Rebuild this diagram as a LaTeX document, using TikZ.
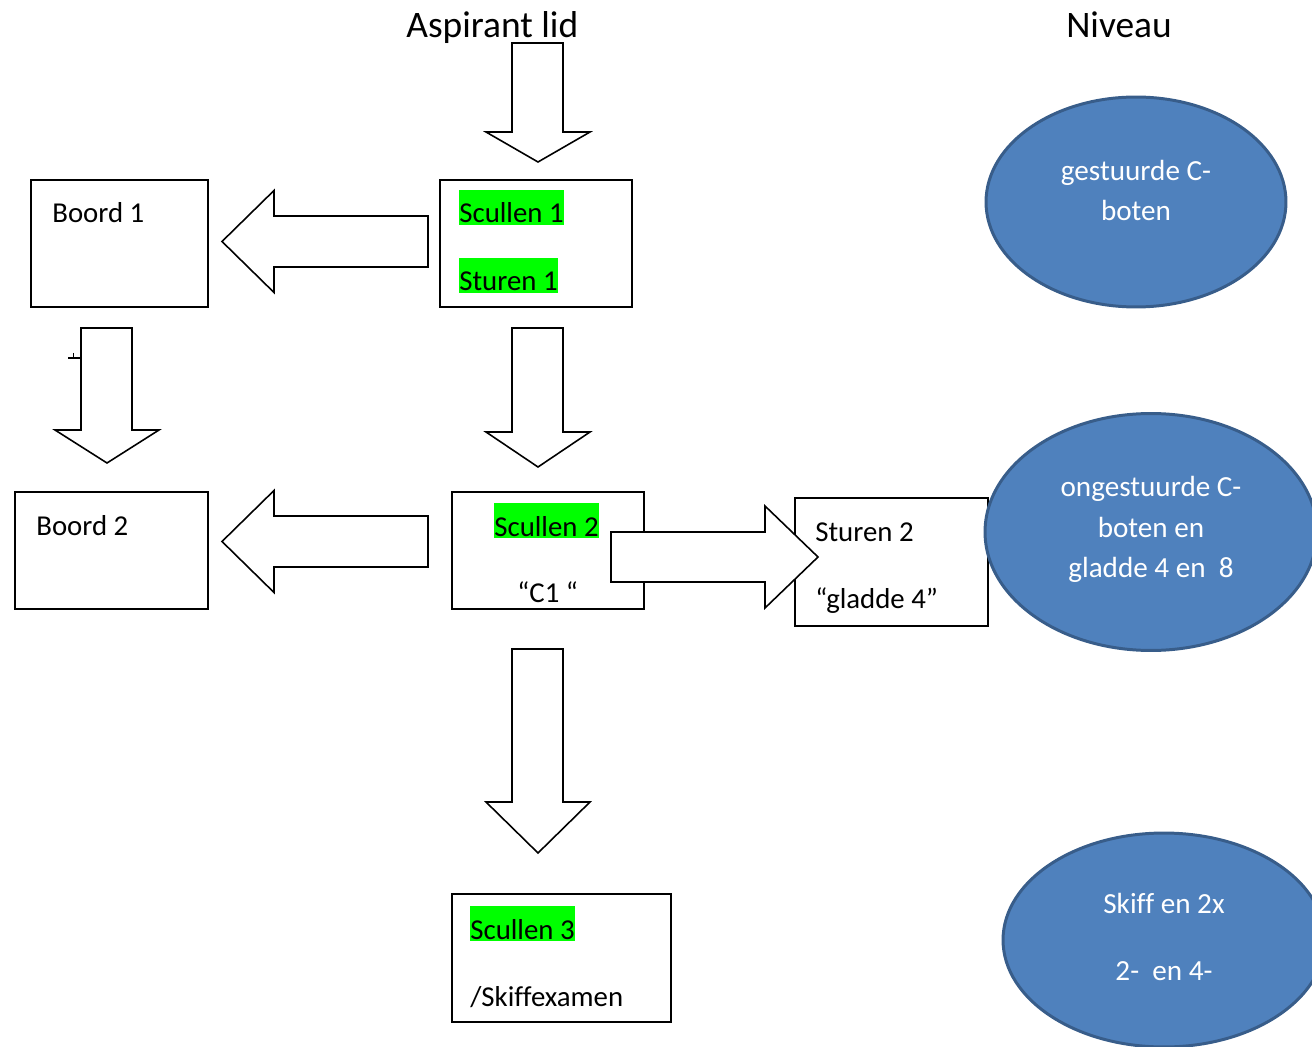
\documentclass[tikz,border=0pt]{standalone}
\usepackage{fontspec}
\setmainfont{Carlito}[Ligatures=NoCommon]
\usepackage{tikz}
\usetikzlibrary{shapes.geometric}
\definecolor{vulblauw}{HTML}{4F81BD}
\definecolor{randblauw}{HTML}{385D8A}
\definecolor{markeer}{HTML}{00FF00}

\begin{document}
\begin{tikzpicture}[x=0.02cm, y=-0.02cm,
        blok/.style={draw, line width=1pt, inner sep=0pt, anchor=north west},
        pijl/.style={draw, fill=white, line width=0.9pt, line join=miter},
        kop/.style={inner sep=0pt, font=\fontsize{21.3}{25}\selectfont},
        tekst/.style={anchor=base west, inner sep=0pt, font=\fontsize{16.4}{20}\selectfont},
        gemarkeerd/.style={tekst, fill=markeer, text height=19pt, text depth=1.4pt},
        niveau/.style={ellipse, draw=randblauw, fill=vulblauw, line width=1.7pt, inner sep=0pt},
        wit/.style={anchor=base, inner sep=0pt, text=white, font=\fontsize{16.6}{20}\selectfont}]

        \useasboundingbox (0,0) rectangle (1312,1047);

        % Kopjes
        \node[kop, anchor=base west] (aspirant) at (406,38) {Aspirant lid};
        \node[kop, anchor=base] (kopniveau) at (1119,38) {Niveau};

        % Kaders
        \node[blok, minimum width=3.54cm, minimum height=2.54cm] (boord1) at (30,179) {};
        \node[blok, minimum width=3.84cm, minimum height=2.54cm] (scul1) at (439,179) {};
        \node[blok, minimum width=3.86cm, minimum height=2.34cm] (boord2) at (14,491) {};
        \node[blok, minimum width=3.84cm, minimum height=2.34cm] (scul2) at (451,491) {};
        \node[blok, minimum width=3.86cm, minimum height=2.56cm] (stuur2) at (794,497) {};
        \node[blok, minimum width=4.38cm, minimum height=2.56cm] (scul3) at (451,893) {};

        % Pijlen omlaag
        \foreach \xm/\yb/\yh/\yp in {538/43/132/162, 538/328/432/467, 538/649/802/853, 107/328/430/463}
            \draw[pijl] (\xm-26,\yb) -- (\xm+25,\yb) -- (\xm+25,\yh) -- (\xm+52,\yh) -- (\xm,\yp)
                -- (\xm-52,\yh) -- (\xm-26,\yh) -- cycle;
        \draw[line width=0.8pt] (68,358) -- (81,358) (73.5,353) -- (73.5,358);

        % Pijlen naar links
        \foreach \ym in {241.5, 541.5}
            \draw[pijl] (428,\ym-25.5) -- (274,\ym-25.5) -- (274,\ym-51) -- (222,\ym) -- (274,\ym+51)
                -- (274,\ym+25.5) -- (428,\ym+25.5) -- cycle;

        % Pijl naar rechts
        \draw[pijl] (611,532) -- (765,532) -- (765,506) -- (818,557) -- (765,608) -- (765,582) -- (611,582) -- cycle;

        % Teksten in de kaders
        \node[tekst] (b1) at (52,223) {Boord 1};
        \node[gemarkeerd] (s1) at (459,223) {Scullen 1};
        \node[gemarkeerd] (st1) at (459,291) {Sturen 1};
        \node[tekst] (b2) at (36,535) {Boord 2};
        \node[gemarkeerd] (s2) at (494,536) {Scullen 2};
        \node[tekst] (c1) at (517,602) {“C1 “};
        \node[tekst] (st2) at (815,541) {Sturen 2};
        \node[tekst] (gl4) at (815,608) {“gladde 4”};
        \node[gemarkeerd] (s3) at (470,939) {Scullen 3};
        \node[tekst] (skiff) at (470,1006) {/Skiffexamen};

        % Niveaus
        \node[niveau, minimum width=6cm, minimum height=4.2cm] (niv1) at (1136,202) {};
        \node[niveau, minimum width=6.64cm, minimum height=4.74cm] (niv2) at (1151,532) {};
        \node[niveau, minimum width=6.44cm, minimum height=4.28cm] (niv3) at (1164,940) {};

        \node[wit] (n1a) at (1136,181) {gestuurde C-};
        \node[wit] (n1b) at (1136,221) {boten};
        \node[wit] (n2a) at (1151,497) {ongestuurde C-};
        \node[wit] (n2b) at (1151,537) {boten en};
        \node[wit] (n2c) at (1151,577) {gladde 4 en\ \ 8};
        \node[wit] (n3a) at (1164,913) {Skiff en 2x};
        \node[wit] (n3b) at (1164,980) {2-\ \ en 4-};
\end{tikzpicture}
\end{document}
